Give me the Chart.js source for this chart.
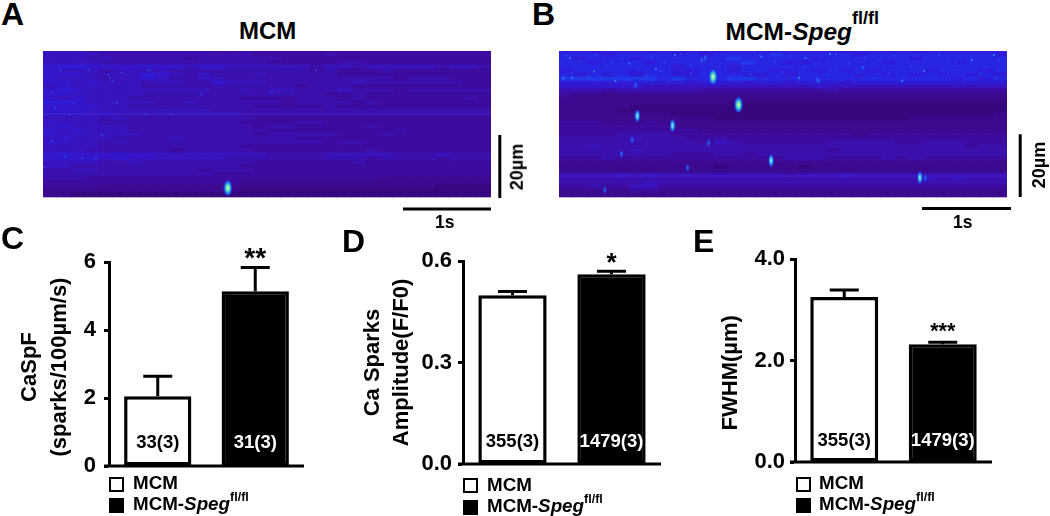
<!DOCTYPE html>
<html>
<head>
    <title>Ca sparks</title>
    <script src="https://cdn.jsdelivr.net/npm/chart.js"></script>
    <style>
        body { margin: 0; background: #fff; width: 1050px; height: 516px; overflow: hidden; position: relative;
               font-family: "Liberation Sans", Arial, sans-serif; font-weight: bold; color: #000; }
        canvas { position: absolute; }
        .label { position: absolute; line-height: 1; white-space: nowrap; }
        .label sup { vertical-align: baseline; position: relative; }
        .box { position: absolute; box-sizing: border-box; border: 2.5px solid #000; }
    </style>
</head>
<body>
<canvas id="scanA" width="490" height="180" style="left:43px;top:51px"></canvas>
<canvas id="scanB" width="490" height="180" style="left:559px;top:51px"></canvas>
<canvas id="chartC" width="320" height="247" style="left:0;top:235px"></canvas>
<canvas id="chartD" width="330" height="245" style="left:350px;top:235px"></canvas>
<canvas id="chartE" width="310" height="244" style="left:700px;top:235px"></canvas>

<script>
const categories = ['MCM', 'MCM-Speg fl/fl'];

const caspfValues = [2.05, 5.14];
const caspfErrors = [0.59, 0.70];
const caspfCounts = ['33(3)', '31(3)'];
const caspfTicks = ['0', '2', '4', '6'];

const ampValues = [0.499, 0.561];
const ampErrors = [0.011, 0.009];
const ampCounts = ['355(3)', '1479(3)'];
const ampTicks = ['0.0', '0.3', '0.6'];

const fwhmValues = [3.25, 2.32];
const fwhmErrors = [0.14, 0.04];
const fwhmCounts = ['355(3)', '1479(3)'];
const fwhmTicks = ['0.0', '2.0', '4.0'];

// line scan images: one string per row, one digit per column (brightness)
const scanPalette = ['#37077f', '#3b0a8f', '#3d0c9f', '#3c10ae', '#3913bd', '#3417cc', '#2e1cd8', '#2826e2', '#2238e8', '#1d50ee'];

const scanARows = [
    '44433333333322322222222222222222',
    '44443333333333322222322222222222',
    '44434333332333333222222222222222',
    '44443333333333332222233222222222',
    '56655555554554444443443444443443',
    '54443443433333333332322232222222',
    '55544446543433343333322222222222',
    '54443445433443333333333332333222',
    '55454443443354443333334333333322',
    '45444443333333333323332222222222',
    '56544444444433434433343332333333',
    '55444443333333333333223222222222',
    '54544433333333222233323222222232',
    '66544444334333333233332322222222',
    '55554433333333322222322222222222',
    '55544444444433333333333333333333',
    '44444333333333222222222222222222',
    '44443433333333322222222222222222',
    '54443333333333222233222222222222',
    '45444433333333323322222322222222',
    '54544433333333332222222223222222',
    '54444443333333323333322232222222',
    '45444333343333333322222222222222',
    '54443433333333333333233222222222',
    '44443333333333222222222222222222',
    '44433333323333322222222322222222',
    '56555555444444443333444443334333',
    '55554544444443333333333233332333',
    '44443343333333322222223222222222',
    '44333333333333222222222222222222',
    '33443333333233322222222222222222',
    '33333333333322222222222222222222',
    '33322222222222222222222211111111',
    '22222222222222111111111111111111',
    '22221111111111111111111111110000',
    '11111111111111000000000000000000',
    '11000000000000000000000000000000'
];

const scanBRows = [
    '66566656665566666666566665666666',
    '77767777676777787777767777777776',
    '76777677777787777767777776777777',
    '77677767777778776677777677776777',
    '77777777677767777777777777777777',
    '67777677667767766767676777677767',
    '76767677667776676777767676767676',
    '88888887877788777777777777776767',
    '66666666656665665666566666666666',
    '55555544444444444454444444444444',
    '33323333332222222223222222222222',
    '21111111111111111111111111111111',
    '11111111111111111111111111111111',
    '11111111111100000000000000000000',
    '11111000000000000000000000000000',
    '11110000000000000000000000000000',
    '11111111000000000000000000000001',
    '11111111111000000000000001111111',
    '22211121111111111111111111111111',
    '22222222111111111111111111111111',
    '22222222221111111111111111111111',
    '22223333222222222222212222222222',
    '33333433322322222222222222222222',
    '33333333332432222223333322333222',
    '33433333333333333333333333333233',
    '33333433333333333332333333333333',
    '33333333222332333333333333333333',
    '22232222222222223332222323222222',
    '11111111111111111111111111111111',
    '11111111111011111011111111111111',
    '11111111111111111111111111111111',
    '33334343333333332333433333333333',
    '33333333333333333333333333434333',
    '33333343333333333333333333333333',
    '22322442222222222222222222222222',
    '11111221111111111111111111111111',
    '11111111111111111111111111111111'
];

// x in seconds, y in micrometres from the top of the scan
const scanSpan = 5.09;
const scanDepth = 47;

const sparksAHot = [{ x: 2.10, y: 43.5 }];
const sparksBHot = [{ x: 1.75, y: 8.2 }, { x: 2.04, y: 17.1 }];
const sparksBMid = [{ x: 0.89, y: 20.6 }, { x: 1.29, y: 23.7 }, { x: 2.41, y: 34.8 }, { x: 4.10, y: 40.2 }];
const sparksBDim = [
    { x: 0.87, y: 10.8 }, { x: 1.46, y: 37.1 }, { x: 1.70, y: 29.2 }, { x: 0.71, y: 32.7 },
    { x: 4.16, y: 40.3 }, { x: 1.62, y: 3.0 }, { x: 1.66, y: 2.2 }, { x: 2.94, y: 9.2 },
    { x: 0.52, y: 44.1 }, { x: 0.83, y: 28.2 }
];

const specklesA = [
    { x: 0.76, y: 8.6 }, { x: 0.74, y: 7.6 }, { x: 0.79, y: 9.6 }, { x: 1.19, y: 6.2 }, { x: 1.22, y: 6.0 },
    { x: 0.11, y: 13.3 }, { x: 0.14, y: 18.0 }, { x: 0.67, y: 26.7 }, { x: 0.10, y: 28.6 }, { x: 0.25, y: 33.6 },
    { x: 0.02, y: 37.0 }, { x: 1.16, y: 20.0 }, { x: 0.84, y: 16.5 }, { x: 0.30, y: 20.2 }, { x: 0.45, y: 34.0 },
    { x: 0.20, y: 6.2 }, { x: 0.52, y: 6.0 }, { x: 0.90, y: 7.0 }, { x: 0.35, y: 16.5 }, { x: 0.60, y: 33.8 },
    { x: 1.45, y: 20.1 }, { x: 1.80, y: 13.8 }, { x: 2.60, y: 13.2 }, { x: 3.10, y: 6.1 }
];
const specklesB = [
    { x: 0.08, y: 1.5 }, { x: 0.25, y: 3.0 }, { x: 0.42, y: 1.2 }, { x: 0.55, y: 4.5 }, { x: 0.72, y: 2.4 }, { x: 0.90, y: 5.6 },
    { x: 1.05, y: 1.8 }, { x: 1.20, y: 3.8 }, { x: 1.38, y: 1.0 }, { x: 1.90, y: 2.6 }, { x: 2.10, y: 4.2 }, { x: 2.28, y: 1.4 },
    { x: 2.45, y: 3.4 }, { x: 2.62, y: 1.6 }, { x: 2.80, y: 5.0 }, { x: 2.98, y: 2.2 }, { x: 3.15, y: 1.1 }, { x: 3.30, y: 4.0 },
    { x: 3.48, y: 2.0 }, { x: 3.65, y: 3.2 }, { x: 3.82, y: 1.5 }, { x: 4.00, y: 4.8 }, { x: 4.15, y: 2.5 }, { x: 4.32, y: 1.2 },
    { x: 4.50, y: 3.6 }, { x: 4.68, y: 1.9 }, { x: 4.85, y: 5.2 }, { x: 5.00, y: 2.8 }, { x: 0.15, y: 6.8 }, { x: 0.33, y: 8.4 },
    { x: 0.48, y: 9.0 }, { x: 0.62, y: 7.2 }, { x: 0.78, y: 9.2 }, { x: 1.00, y: 8.0 }, { x: 1.15, y: 6.4 }, { x: 1.32, y: 9.1 },
    { x: 1.50, y: 7.0 }, { x: 1.92, y: 8.8 }, { x: 2.18, y: 7.4 }, { x: 2.35, y: 9.0 }, { x: 2.55, y: 6.6 }, { x: 2.72, y: 8.2 },
    { x: 3.05, y: 7.6 }, { x: 3.22, y: 9.3 }, { x: 3.40, y: 6.9 }, { x: 3.58, y: 8.6 }, { x: 3.75, y: 7.2 }, { x: 3.92, y: 9.0 },
    { x: 4.08, y: 6.8 }, { x: 4.25, y: 8.4 }, { x: 4.42, y: 7.3 }, { x: 4.60, y: 9.1 }, { x: 4.78, y: 7.0 }, { x: 4.95, y: 8.6 },
    { x: 0.05, y: 9.0 }, { x: 0.40, y: 9.3 }, { x: 1.04, y: 9.4 }, { x: 1.25, y: 9.6 }, { x: 0.60, y: 3.6 }, { x: 1.50, y: 4.6 }
];
const brightDotsB = [
    { x: 0.125, y: 2.2 }, { x: 0.05, y: 8.6 }, { x: 0.15, y: 8.6 }, { x: 0.64, y: 9.5 }, { x: 1.32, y: 1.3 }, { x: 0.40, y: 6.5 },
    { x: 2.95, y: 9.5 }, { x: 3.08, y: 0.95 }, { x: 2.80, y: 2.2 }, { x: 3.90, y: 9.5 }, { x: 4.94, y: 1.3 }, { x: 2.73, y: 8.6 },
    { x: 4.15, y: 6.3 }, { x: 4.69, y: 2.9 }, { x: 0.80, y: 4.0 }, { x: 1.10, y: 5.8 }, { x: 2.30, y: 1.8 }, { x: 3.45, y: 5.2 }
];

const streakA = [{ x: 0, y: 20 }, { x: 5.09, y: 20 }];
const streakB = [{ x: 0, y: 39.7 }, { x: 5.09, y: 39.7 }];

const timeBarA = [{ x: 4.09, y: 50.2 }, { x: 5.09, y: 50.2 }];
const depthBarA = [{ x: 5.19, y: 26.7 }, { x: 5.19, y: 46.7 }];
const timeBarB = [{ x: 4.125, y: 50.0 }, { x: 5.135, y: 50.0 }];
const depthBarB = [{ x: 5.24, y: 26.4 }, { x: 5.24, y: 46.4 }];

const FONT = '"Liberation Sans", Arial, sans-serif';

function makeSpark(w, h, stops) {
    // small elongated glow, used as a point style
    const c = document.createElement('canvas');
    c.width = w;
    c.height = h;
    const g = c.getContext('2d');
    g.translate(w / 2, h / 2);
    g.scale(w / h, 1);
    const grad = g.createRadialGradient(0, 0, 0, 0, 0, h / 2);
    stops.forEach(s => grad.addColorStop(s[0], s[1]));
    g.fillStyle = grad;
    g.fillRect(-h / 2, -h / 2, h, h);
    return c;
}

const sparkHot = makeSpark(9, 17, [[0, '#f4ffc8'], [0.3, '#70f0a0'], [0.6, '#20a0f0'], [0.85, 'rgba(40,60,230,0.8)'], [1, 'rgba(40,30,220,0)']]);
const sparkMid = makeSpark(6, 14, [[0, '#c0ffff'], [0.4, '#30c0f0'], [0.75, 'rgba(40,80,235,0.85)'], [1, 'rgba(40,30,220,0)']]);
const sparkDim = makeSpark(5, 10, [[0, '#2a80f0'], [0.5, 'rgba(40,70,235,0.7)'], [1, 'rgba(40,30,220,0)']]);

function scatterSet(data, extra) {
    return Object.assign({ type: 'scatter', data: data, xAxisID: 'x2', yAxisID: 'y2', indexAxis: 'x', order: 0 }, extra);
}

function barScale(id, values, errors, counts, ticks, cfg) {
    new Chart(document.getElementById(id), {
        type: 'bar',
        data: {
            labels: categories,
            datasets: [{
                data: values,
                backgroundColor: ['#fff', '#000'],
                borderColor: '#000',
                borderWidth: 3.5,
                borderSkipped: false,
                barPercentage: 0.69,
                categoryPercentage: 1
            }]
        },
        options: {
            responsive: false,
            animation: false,
            layout: { autoPadding: false, padding: { left: 0, top: cfg.top, right: cfg.right, bottom: cfg.bottom } },
            plugins: { legend: { display: false }, tooltip: { enabled: false } },
            scales: {
                x: {
                    ticks: { display: false },
                    grid: { display: false },
                    border: { display: false },
                    afterFit: s => { s.height = 0; }
                },
                y: {
                    min: 0,
                    max: cfg.max,
                    ticks: {
                        stepSize: cfg.step,
                        color: '#000',
                        padding: cfg.tickPad,
                        font: { family: FONT, size: 22, weight: 'bold' },
                        callback: (v, i) => ticks[i]
                    },
                    grid: { drawOnChartArea: false, tickLength: 5, tickWidth: 3, tickColor: '#000' },
                    border: { color: '#000', width: 3 },
                    title: {
                        display: true,
                        text: cfg.title,
                        color: '#000',
                        padding: { top: cfg.titlePad, bottom: 0 },
                        font: { family: FONT, size: 22, weight: 'bold', lineHeight: cfg.titleLine }
                    },
                    afterFit: s => {
                        // fixed axis box, tick label overhang must not shrink the plot area
                        s.width = cfg.axisWidth;
                        s.paddingTop = 0;
                        s.paddingBottom = 0;
                    }
                }
            }
        },
        plugins: [{
            id: 'errorsAndLabels',
            afterDatasetsDraw(chart) {
                const ctx = chart.ctx;
                const y = chart.scales.y;
                const bars = chart.getDatasetMeta(0).data;
                const area = chart.chartArea;
                ctx.save();
                ctx.strokeStyle = '#000';
                ctx.lineWidth = 3;
                ctx.textAlign = 'center';
                // baseline at zero, the x scale itself has no height
                ctx.beginPath();
                ctx.moveTo(area.left - 5, y.getPixelForValue(0));
                ctx.lineTo(area.right, y.getPixelForValue(0));
                ctx.stroke();
                values.forEach((v, i) => {
                    const cx = bars[i].x;
                    const top = y.getPixelForValue(v + errors[i]);
                    ctx.beginPath();
                    ctx.moveTo(cx, y.getPixelForValue(v));
                    ctx.lineTo(cx, top);
                    ctx.moveTo(cx - 14.5, top);
                    ctx.lineTo(cx + 14.5, top);
                    ctx.stroke();
                    ctx.font = 'bold 18.5px ' + FONT;
                    ctx.fillStyle = i === 0 ? '#000' : '#fff';
                    ctx.fillText(counts[i], cx, area.bottom - cfg.countLift);
                });
                ctx.fillStyle = '#000';
                ctx.font = 'bold ' + cfg.starSize + 'px ' + FONT;
                ctx.fillText(cfg.stars, bars[cfg.starBar].x, y.getPixelForValue(values[cfg.starBar] + errors[cfg.starBar]) - cfg.starLift);
                ctx.restore();
            }
        }]
    });
}

function scanChart(id, rows, overlays) {
    const columns = rows[0].length;
    const cellSets = [];
    for (let col = 0; col < columns; col++) {
        cellSets.push({
            type: 'bar',
            indexAxis: 'y',
            xAxisID: 'x',
            yAxisID: 'y',
            order: 1,
            data: rows.map(() => 1),
            backgroundColor: rows.map(r => scanPalette[Number(r[col])]),
            barThickness: 4,
            borderWidth: 0
        });
    }
    new Chart(document.getElementById(id), {
        data: { labels: rows.map((r, i) => i), datasets: cellSets.concat(overlays) },
        options: {
            responsive: false,
            animation: false,
            layout: { autoPadding: false, padding: { left: 0, top: 0, right: 42, bottom: 32 } },
            plugins: { legend: { display: false }, tooltip: { enabled: false } },
            scales: {
                x: { type: 'linear', stacked: true, min: 0, max: columns, display: false },
                y: { type: 'category', stacked: true, offset: true, display: false },
                x2: { type: 'linear', axis: 'x', min: 0, max: scanSpan, display: false },
                y2: { type: 'linear', axis: 'y', min: 0, max: scanDepth, reverse: true, display: false }
            }
        }
    });
}

function scanOverlays(speckles, bright, streak, timeBar, depthBar, hot, mid, dim) {
    return [
        scatterSet(timeBar, { showLine: true, borderColor: '#000', borderWidth: 3, pointRadius: 0, clip: false }),
        scatterSet(depthBar, { showLine: true, borderColor: '#000', borderWidth: 3, pointRadius: 0, clip: false }),
        scatterSet(hot, { pointStyle: sparkHot, pointRadius: 4 }),
        scatterSet(mid, { pointStyle: sparkMid, pointRadius: 4 }),
        scatterSet(dim, { pointStyle: sparkDim, pointRadius: 4 }),
        scatterSet(bright, { pointStyle: 'rect', pointRadius: 1.2, backgroundColor: '#2a8cf0', borderWidth: 0 }),
        scatterSet(speckles, { pointStyle: 'rect', pointRadius: 1.2, backgroundColor: '#2a48ee', borderWidth: 0 }),
        scatterSet(streak, { showLine: true, borderColor: 'rgba(62,48,240,0.55)', borderWidth: 1.5, pointRadius: 0 })
    ];
}

scanChart('scanA', scanARows, scanOverlays(specklesA, [], streakA, timeBarA, depthBarA, sparksAHot, [], []));
scanChart('scanB', scanBRows, scanOverlays(specklesB, brightDotsB, streakB, timeBarB, depthBarB, sparksBHot, sparksBMid, sparksBDim));

barScale('chartC', caspfValues, caspfErrors, caspfCounts, caspfTicks, {
    top: 27, right: 16, bottom: 16, max: 6, step: 2, tickPad: 8, axisWidth: 109,
    // trailing spaces push the centred titles down to where the reference has them
    title: ['CaSpF\u00a0', '(sparks/100\u00b5m/s)\u00a0'], titlePad: 15, titleLine: 1.36,
    countLift: 18, stars: '**', starBar: 1, starSize: 28, starLift: 0
});
barScale('chartD', ampValues, ampErrors, ampCounts, ampTicks, {
    top: 26, right: 19, bottom: 16, max: 0.6, step: 0.3, tickPad: 6, axisWidth: 113,
    title: ['Ca Sparks', 'Amplitude(F/F0)'], titlePad: 8.7, titleLine: 1.3,
    countLift: 17, stars: '*', starBar: 1, starSize: 26, starLift: 0
});
barScale('chartE', fwhmValues, fwhmErrors, fwhmCounts, fwhmTicks, {
    top: 24, right: 18, bottom: 17, max: 4, step: 2, tickPad: 5, axisWidth: 95,
    title: 'FWHM(\u00b5m)\u00a0\u00a0\u00a0\u00a0', titlePad: 17.5, titleLine: 1.2,
    countLift: 16, stars: '***', starBar: 1, starSize: 21.5, starLift: 4.5
});

// panel letters, titles and legends
function label(html, x, baseline, size, rotate) {
    const el = document.createElement('div');
    el.className = 'label';
    el.innerHTML = html;
    el.style.fontSize = size + 'px';
    el.style.left = x + 'px';
    el.style.top = (baseline - 0.8465 * size) + 'px';
    if (rotate) {
        el.style.transformOrigin = '0 ' + (0.8465 * size) + 'px';
        el.style.transform = 'rotate(-90deg)';
    }
    document.body.appendChild(el);
}

function box(x, y, w, h, fill) {
    const el = document.createElement('div');
    el.className = 'box';
    el.style.cssText = 'left:' + x + 'px;top:' + y + 'px;width:' + w + 'px;height:' + h + 'px;background:' + fill;
    document.body.appendChild(el);
}

function legend(boxX, textX, row1Y, row2Y, base1, base2) {
    box(boxX, row1Y, 15, 15, '#fff');
    box(boxX, row2Y, 15, 15, '#000');
    label(categories[0], textX, base1, 18.8);
    label('MCM-<i>Speg</i><sup style="font-size:12.5px;top:-9px">fl/fl</sup>', textX, base2, 18.8);
}

label('A', 1, 25, 32);
label('B', 532, 25, 32);
label('C', 1, 249, 32);
label('D', 342, 252, 32);
label('E', 693, 252, 32);

label('MCM', 239, 39, 24);
label('MCM-<i>Speg</i><sup style="font-size:18px;top:-15.5px">fl/fl</sup>', 725.5, 40.5, 24.5);

label('1s', 435, 229, 17.5);
label('1s', 953, 229, 17.5);
label('20\u00b5m', 523, 190, 18, true);
label('20\u00b5m', 1045, 188, 18, true);

legend(109, 133, 477, 498, 490, 511);
legend(463, 487, 478, 500, 492, 513);
legend(796, 819, 477, 498, 490, 511);
</script>
</body>
</html>
